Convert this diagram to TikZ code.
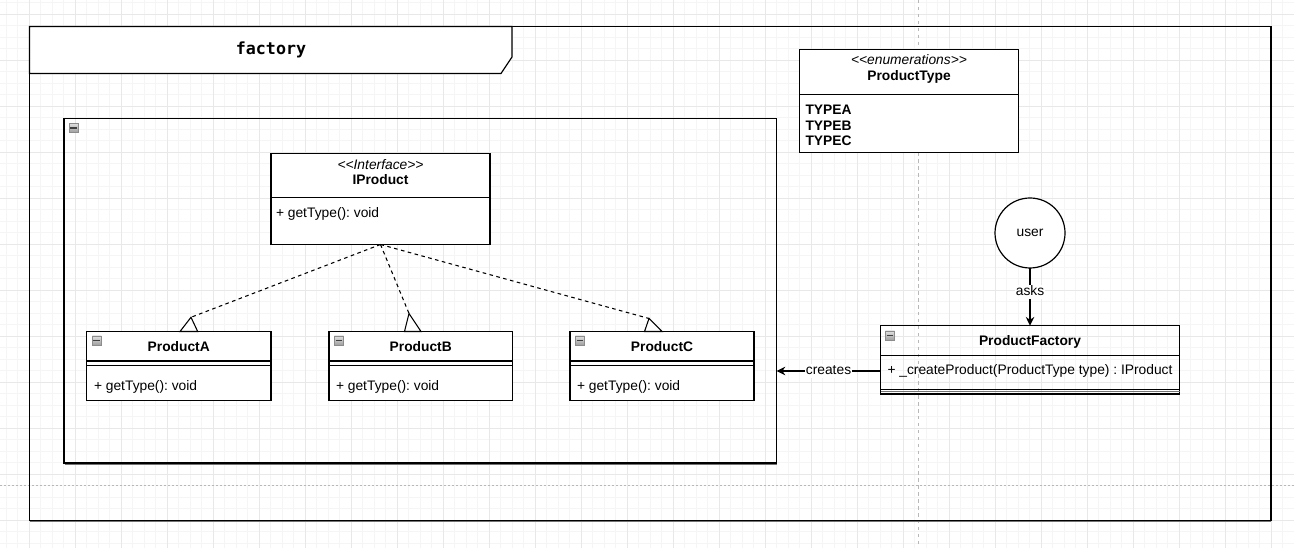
\documentclass[tikz,border=0pt]{standalone}
\usepackage{fontspec}
\setmainfont{Liberation Sans}
\newfontfamily\codefont{DejaVu Sans Mono}
\usetikzlibrary{arrows.meta}
\frenchspacing

% two-character stereotype brackets, kept apart so they stay as typed
\newcommand\ltlt{<\kern0pt<}
\newcommand\gtgt{>\kern0pt>}

\begin{document}
\begin{tikzpicture}[x=0.75pt,y=-0.75pt,
  every node/.style={inner sep=0pt, outer sep=0pt,
    font=\fontsize{10.35}{12}\selectfont, text height=7.5pt, text depth=2pt},
  gridfine/.style={draw=black!4, line width=0.6pt},
  gridmajor/.style={draw=black!9, line width=0.6pt},
  pagebreak/.style={draw=black!28, line width=0.6pt},
  umlline/.style={line width=0.9pt},
  umlbox/.style={draw, line width=0.9pt, fill=white, anchor=north west,
    text height=, text depth=},
  openbox/.style={draw, line width=0.9pt, anchor=north west,
    text height=, text depth=},
  collapse/.style={draw=black!45, top color=black!12, bottom color=black!38,
    line width=0.5pt, minimum size=6.8pt, text height=, text depth=},
  title/.style={font=\fontsize{10.35}{12}\selectfont\bfseries},
  stereo/.style={font=\fontsize{10.35}{12}\selectfont\itshape},
  member/.style={anchor=west},
  realize/.style={dashed, dash pattern=on 2.7pt off 2.6pt, line width=0.8pt},
  hollowtip/.style={draw, fill=white, line width=0.8pt, line join=miter},
  msg/.style={line width=0.8pt, -{Stealth[length=6.6pt, width=6.4pt, inset=2.2pt]}},
  lbl/.style={fill=white, inner xsep=0.8pt, inner ysep=0.5pt}
]
\useasboundingbox (0,0) rectangle (1294,548);

% ---------- background grid and page limits ----------
\foreach \i in {0,...,112}
  \draw[gridfine] ({6.3+11.5*\i},0) -- ({6.3+11.5*\i},548);
\foreach \j in {0,...,47}
  \draw[gridfine] (0,{2.5+11.5*\j}) -- (1294,{2.5+11.5*\j});
\foreach \i in {0,...,27}
  \draw[gridmajor] ({29.3+46*\i},0) -- ({29.3+46*\i},548);
\foreach \j in {0,...,11}
  \draw[gridmajor] (0,{14+46*\j}) -- (1294,{14+46*\j});
\draw[pagebreak, dash pattern=on 2.6pt off 2.6pt] (918.4,0) -- (918.4,548);
\draw[pagebreak, dash pattern=on 1.5pt off 1.5pt] (0,485) -- (1294,485);

% ---------- package frame ----------
\node[openbox, minimum width=931.1pt, minimum height=370.5pt] (frame) at (29.5,26.5) {};
\draw[black!55, line width=0.6pt] (30,521.8) -- (1271,521.8);
\draw[umlline, fill=white] (29.5,26.5) -- (512,26.5) -- (512,57) -- (501,73.5)
  -- (29.5,73.5) -- cycle;
\node[font=\codefont\fontsize{12.5}{14}\selectfont\bfseries] (frametitle) at (271,51) {factory};

% ---------- product container ----------
\node[openbox, minimum width=534.4pt, minimum height=258.4pt] (products) at (64,118.5) {};
\draw[black!55, line width=0.6pt] (64.5,464.3) -- (776.5,464.3);
\node[collapse] (iconprod) at (73.7,127.8) {};
\draw[black!75, line width=1.1pt] ([xshift=-2.6pt]iconprod.center) -- ([xshift=2.6pt]iconprod.center);

% ---------- ProductType enumeration ----------
\node[umlbox, minimum width=164.25pt, minimum height=77.25pt] (ptype) at (799.5,49.5) {};
\draw[umlline] (799.5,94.3) -- (1018.5,94.3);
\node[stereo] (ptypest) at (909,61) {\ltlt enumerations\gtgt};
\node[title] (ptypename) at (909,77) {ProductType};
\node[member, font=\fontsize{10.35}{12}\selectfont\bfseries] (ta) at (805.5,110.7) {TYPEA};
\node[member, font=\fontsize{10.35}{12}\selectfont\bfseries] (tb) at (805.5,126.5) {TYPEB};
\node[member, font=\fontsize{10.35}{12}\selectfont\bfseries] (tc) at (805.5,142.3) {TYPEC};

% ---------- IProduct interface ----------
\node[umlbox, minimum width=164.25pt, minimum height=68.25pt] (iprod) at (271,153.5) {};
\draw[umlline] (271,197.7) -- (490,197.7);
\node[stereo] (iprodst) at (380.5,165.7) {\ltlt Interface\gtgt};
\node[title] (iprodname) at (380.5,181) {IProduct};
\node[member] (iprodm) at (276,213.5) {+ getType(): void};

% ---------- concrete products ----------
\node[umlbox, minimum width=138.4pt, minimum height=51.75pt] (pa) at (86.5,331.5) {};
\draw[umlline] (86.5,361) -- (271,361);
\draw[umlline] (86.5,365.7) -- (271,365.7);
\node[title] (paname) at (178.75,347.5) {ProductA};
\node[member] (pam) at (94,386.7) {+ getType(): void};
\node[collapse] (iconpa) at (96.8,340.5) {};
\draw[black!75, line width=1.1pt] ([xshift=-2.6pt]iconpa.center) -- ([xshift=2.6pt]iconpa.center);

\node[umlbox, minimum width=137.6pt, minimum height=51.75pt] (pb) at (329,331.5) {};
\draw[umlline] (329,361) -- (512.5,361);
\draw[umlline] (329,365.7) -- (512.5,365.7);
\node[title] (pbname) at (420.75,347.5) {ProductB};
\node[member] (pbm) at (336,386.7) {+ getType(): void};
\node[collapse] (iconpb) at (339,340.5) {};
\draw[black!75, line width=1.1pt] ([xshift=-2.6pt]iconpb.center) -- ([xshift=2.6pt]iconpb.center);

\node[umlbox, minimum width=138pt, minimum height=51.75pt] (pc) at (570,331.5) {};
\draw[umlline] (570,361) -- (754,361);
\draw[umlline] (570,365.7) -- (754,365.7);
\node[title] (pcname) at (662,347.5) {ProductC};
\node[member] (pcm) at (577,386.7) {+ getType(): void};
\node[collapse] (iconpc) at (580,340.5) {};
\draw[black!75, line width=1.1pt] ([xshift=-2.6pt]iconpc.center) -- ([xshift=2.6pt]iconpc.center);

% ---------- realization arrows ----------
\coordinate (tipa) at (191,317.3);
\coordinate (tipb) at (409,313.5);
\coordinate (tipc) at (649,318.5);
\draw[realize] (iprod.south) -- (tipa);
\draw[realize] (iprod.south) -- (tipb);
\draw[realize] (iprod.south) -- (tipc);
\draw[hollowtip] (tipa) -- (180,331.5) -- (197.7,331.5) -- cycle;
\draw[hollowtip] (tipb) -- (404.5,331.5) -- (421,331.5) -- cycle;
\draw[hollowtip] (tipc) -- (644.5,331.5) -- (662,331.5) -- cycle;

% ---------- ProductFactory ----------
\node[openbox, minimum width=224.25pt, minimum height=51.2pt] (pf) at (880.5,325.7) {};
\draw[umlline] (880.5,355.3) -- (1179.5,355.3);
\draw[umlline] (880.5,389.3) -- (1179.5,389.3);
\draw[black!55, line width=0.6pt] (880.5,391.5) -- (1179.5,391.5);
\node[title] (pfname) at (1030,341.7) {ProductFactory};
\node[member] (pfm) at (887.5,371) {+ \_createProduct(ProductType type) : IProduct};
\node[collapse] (iconpf) at (890,335.5) {};
\draw[black!75, line width=1.1pt] ([xshift=-2.6pt]iconpf.center) -- ([xshift=2.6pt]iconpf.center);

% ---------- user ----------
\node[draw, circle, fill=white, line width=0.9pt, minimum size=52.5pt,
  text height=, text depth=] (user) at (1030,233) {user};

% ---------- messages ----------
\draw[msg] (user.south) -- node[lbl, pos=0.42] (askslbl) {asks} (pf.north);
\coordinate (crstart) at (880.5,371);
\draw[msg] (crstart) -- node[lbl] (creatlbl) {creates} (products.east |- crstart);

\end{tikzpicture}
\end{document}
